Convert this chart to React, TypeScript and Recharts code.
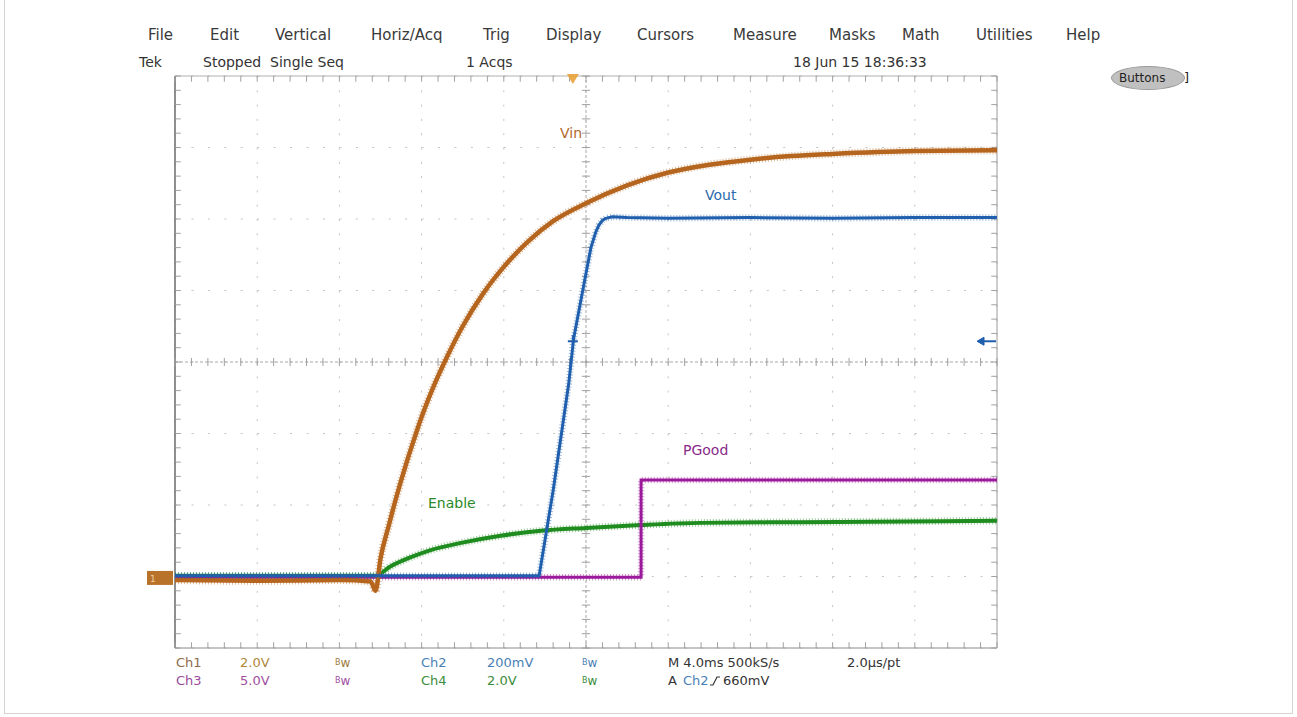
import React from 'react';
import { LineChart, Line, XAxis, YAxis, CartesianGrid, ReferenceLine, ReferenceDot } from 'recharts';

// time in screen divisions (0..10), amplitude in divisions (-4..4, centre line = 0)
const xTicks = [0, 1, 2, 3, 4, 5, 6, 7, 8, 9, 10];
const yTicks = [-4, -3, -2, -1, 0, 1, 2, 3, 4];

// Ch1 - Vin
const vinTime = [0, 1, 2, 2.38, 2.44, 2.5, 2.6, 2.7, 2.8, 2.9, 3.0, 3.15, 3.3, 3.5, 3.75, 4.0, 4.3, 4.6, 5.0, 5.5, 6.0, 6.5, 7.0, 7.5, 8.0, 9.0, 10];
const vinValue = [-3.05, -3.06, -3.05, -3.07, -3.2, -2.75, -2.29, -1.86, -1.47, -1.11, -0.77, -0.33, 0.05, 0.5, 0.96, 1.33, 1.69, 1.97, 2.22, 2.47, 2.65, 2.76, 2.83, 2.88, 2.91, 2.95, 2.96];

// Ch2 - Vout
const voutTime = [0, 1, 2, 3, 4, 4.43, 4.6, 4.79, 4.85, 4.98, 5.06, 5.12, 5.16, 5.2, 5.24, 5.32, 5.5, 6, 7, 8, 9, 10];
const voutValue = [-2.99, -2.99, -2.99, -2.99, -2.99, -2.99, -1.8, -0.3, 0.33, 1.12, 1.6, 1.82, 1.92, 1.98, 2.01, 2.03, 2.02, 2.01, 2.02, 2.01, 2.02, 2.02];

// Ch3 - PGood
const pgoodTime = [0, 2, 4, 5.67, 5.67, 6, 7, 8, 9, 10];
const pgoodValue = [-3.01, -3.01, -3.01, -3.01, -1.65, -1.65, -1.65, -1.65, -1.65, -1.65];

// Ch4 - Enable
const enableTime = [0, 2.44, 2.62, 2.87, 3.11, 3.48, 3.96, 4.45, 5.0, 5.67, 6.4, 7.62, 10];
const enableValue = [-2.99, -2.99, -2.86, -2.73, -2.63, -2.53, -2.43, -2.36, -2.32, -2.28, -2.25, -2.24, -2.22];

const trigTime = 4.84;
const trigLevel = 0.29;
const groundLevel = -3.02;

const toRows = (t: number[], v: number[]) => t.map((x, i) => ({ t: x, v: v[i] }));
const vinData = toRows(vinTime, vinValue);
const voutData = toRows(voutTime, voutValue);
const pgoodData = toRows(pgoodTime, pgoodValue);
const enableData = toRows(enableTime, enableValue);

const xMinor = Array.from({ length: 51 }, (_, i) => i / 5);
const yMinor = Array.from({ length: 41 }, (_, i) => -4 + i / 5);

const BROWN = '#b5651d';
const BLUE = '#1f5fae';
const GREEN = '#1f8c1f';
const PURPLE = '#9b1a9b';
const GRID = '#c4c4c4';
const FONT = '"DejaVu Sans", Verdana, sans-serif';

const Txt = ({ x, y, color = '#333', size = 14, children }: any) => (
  <div
    style={{
      position: 'absolute',
      left: x,
      top: y - size * 0.6,
      fontSize: size,
      lineHeight: `${size * 1.2}px`,
      color,
      whiteSpace: 'nowrap',
      fontFamily: FONT,
    }}
  >
    {children}
  </div>
);

const Bw = ({ x, y, color }: any) => (
  <Txt x={x} y={y} color={color} size={12}>
    <span style={{ fontSize: 8, verticalAlign: 'top' }}>B</span>w
  </Txt>
);

const TrigMarker = ({ cx, cy }: any) => (
  <path d={`M${cx - 6},${cy - 2} L${cx + 6},${cy - 2} L${cx},${cy + 8} Z`} fill="#e8a23a" opacity={0.9} />
);

const LevelArrow = ({ cx, cy }: any) => (
  <g stroke={BLUE} fill={BLUE}>
    <line x1={cx - 14} y1={cy} x2={cx - 1} y2={cy} strokeWidth={2} />
    <path d={`M${cx - 20},${cy} L${cx - 13},${cy - 4} L${cx - 13},${cy + 4} Z`} />
  </g>
);

const GroundMarker = ({ cx, cy }: any) => (
  <g>
    <rect x={cx - 28} y={cy - 7} width={26} height={14} fill="#b8722a" />
    <text x={cx - 25} y={cy + 4} fontSize={9} fill="#f0d0a0" fontFamily={FONT}>1</text>
  </g>
);

const TrigCross = ({ cx, cy }: any) => (
  <g stroke={BLUE} strokeWidth={2}>
    <line x1={cx - 5} y1={cy} x2={cx + 5} y2={cy} />
    <line x1={cx} y1={cy - 6} x2={cx} y2={cy + 6} />
  </g>
);

// a trace plus a faint dashed fringe to give it the noisy scope look
const trace = (key: string, data: any[], color: string, width: number, curve: any) => [
  <Line key={`${key}n`} data={data} dataKey="v" type={curve} stroke={color} strokeWidth={width + 3.5} strokeOpacity={0.45} strokeDasharray="1 2" dot={false} isAnimationActive={false} />,
  <Line key={key} data={data} dataKey="v" type={curve} stroke={color} strokeWidth={width} dot={false} isAnimationActive={false} />,
];

export default function App() {
  return (
    <div style={{ position: 'absolute', left: 0, top: 0, width: 1297, height: 717, background: '#fff', overflow: 'hidden' }}>
      <div style={{ position: 'absolute', left: 4, top: -2, width: 1287, height: 714, border: '1px solid #d4d4d4' }} />

      <LineChart width={1297} height={717} margin={{ top: 76, right: 300, bottom: 69, left: 175 }}>
        <XAxis dataKey="t" type="number" domain={[0, 10]} ticks={xTicks} hide />
        <YAxis type="number" domain={[-4, 4]} ticks={yTicks} hide />
        <CartesianGrid vertical={false} stroke={GRID} strokeDasharray="2 14.44" />
        <CartesianGrid horizontal={false} stroke={GRID} strokeDasharray="2 12.3" />

        <ReferenceLine y={0} stroke="#a8a8a8" strokeDasharray="3 2" />
        <ReferenceLine x={5} stroke="#a8a8a8" strokeDasharray="3 2" />
        <ReferenceLine x={0} stroke="#6a6a6a" strokeWidth={1.5} ifOverflow="visible" />
        <ReferenceLine x={10} stroke="#9a9a9a" ifOverflow="visible" />
        <ReferenceLine y={4} stroke="#b0b0b0" ifOverflow="visible" />
        <ReferenceLine y={-4} stroke="#8a8a8a" ifOverflow="visible" />

        {xMinor.map((x) => (
          <ReferenceLine key={`hc${x}`} segment={[{ x, y: -0.056 }, { x, y: 0.056 }]} stroke="#a0a0a0" ifOverflow="visible" />
        ))}
        {xMinor.map((x) => (
          <ReferenceLine key={`ht${x}`} segment={[{ x, y: 4 }, { x, y: 3.92 }]} stroke="#a0a0a0" ifOverflow="visible" />
        ))}
        {xMinor.map((x) => (
          <ReferenceLine key={`hb${x}`} segment={[{ x, y: -4 }, { x, y: -3.92 }]} stroke="#a0a0a0" ifOverflow="visible" />
        ))}
        {yMinor.map((y) => (
          <ReferenceLine key={`vc${y}`} segment={[{ x: 4.95, y }, { x: 5.05, y }]} stroke="#a0a0a0" ifOverflow="visible" />
        ))}
        {yMinor.map((y) => (
          <ReferenceLine key={`vl${y}`} segment={[{ x: 0, y }, { x: 0.07, y }]} stroke="#a0a0a0" ifOverflow="visible" />
        ))}
        {yMinor.map((y) => (
          <ReferenceLine key={`vr${y}`} segment={[{ x: 10, y }, { x: 9.93, y }]} stroke="#a0a0a0" ifOverflow="visible" />
        ))}

        {trace('enable', enableData, GREEN, 4, 'monotone')}
        {trace('pgood', pgoodData, PURPLE, 3, 'linear')}
        {trace('vin', vinData, BROWN, 4.5, 'monotone')}
        {trace('vout', voutData, BLUE, 3, 'linear')}

        <ReferenceDot x={trigTime} y={4} shape={<TrigMarker />} ifOverflow="visible" />
        <ReferenceDot x={10} y={trigLevel} shape={<LevelArrow />} ifOverflow="visible" />
        <ReferenceDot x={0} y={groundLevel} shape={<GroundMarker />} ifOverflow="visible" />
        <ReferenceDot x={trigTime} y={trigLevel} shape={<TrigCross />} ifOverflow="visible" />
      </LineChart>

      {/* menu bar */}
      <Txt x={148} y={35} size={15} color="#3a3a3a">File</Txt>
      <Txt x={210} y={35} size={15} color="#3a3a3a">Edit</Txt>
      <Txt x={275} y={35} size={15} color="#3a3a3a">Vertical</Txt>
      <Txt x={371} y={35} size={15} color="#3a3a3a">Horiz/Acq</Txt>
      <Txt x={483} y={35} size={15} color="#3a3a3a">Trig</Txt>
      <Txt x={546} y={35} size={15} color="#3a3a3a">Display</Txt>
      <Txt x={637} y={35} size={15} color="#3a3a3a">Cursors</Txt>
      <Txt x={733} y={35} size={15} color="#3a3a3a">Measure</Txt>
      <Txt x={829} y={35} size={15} color="#3a3a3a">Masks</Txt>
      <Txt x={902} y={35} size={15} color="#3a3a3a">Math</Txt>
      <Txt x={976} y={35} size={15} color="#3a3a3a">Utilities</Txt>
      <Txt x={1066} y={35} size={15} color="#3a3a3a">Help</Txt>

      {/* status line */}
      <Txt x={139} y={62} size={14}>Tek</Txt>
      <Txt x={203} y={62} size={14}>Stopped</Txt>
      <Txt x={270} y={62} size={14}>Single Seq</Txt>
      <Txt x={466} y={62} size={14}>1 Acqs</Txt>
      <Txt x={793} y={62} size={14}>18 Jun 15 18:36:33</Txt>

      <div
        style={{
          position: 'absolute', left: 1111, top: 66, width: 74, height: 24, borderRadius: '50%',
          background: '#c0c0c0', border: '1px solid #9a9a9a', boxSizing: 'border-box',
        }}
      />
      <Txt x={1119} y={78} size={12} color="#222">Buttons</Txt>
      <Txt x={1184} y={78} size={13} color="#222">]</Txt>

      {/* trace labels */}
      <Txt x={560} y={133} color="#b0682a">Vin</Txt>
      <Txt x={705} y={195} color="#2a6aaa">Vout</Txt>
      <Txt x={683} y={450} color="#8a2a8a">PGood</Txt>
      <Txt x={428} y={503} color="#2a8a2a">Enable</Txt>

      {/* channel readout */}
      <Txt x={176} y={663} size={13} color="#8e6a48">Ch1</Txt>
      <Txt x={240} y={663} size={13} color="#b08838">2.0V</Txt>
      <Bw x={335} y={663} color="#a07a40" />
      <Txt x={421} y={663} size={13} color="#4a7fb5">Ch2</Txt>
      <Txt x={487} y={663} size={13} color="#4a7fb5">200mV</Txt>
      <Bw x={582} y={663} color="#4a7fb5" />
      <Txt x={668} y={663} size={13} color="#333">M 4.0ms 500kS/s</Txt>
      <Txt x={847} y={663} size={13} color="#333">2.0µs/pt</Txt>

      <Txt x={176} y={681} size={13} color="#9a4a9a">Ch3</Txt>
      <Txt x={240} y={681} size={13} color="#a050a0">5.0V</Txt>
      <Bw x={335} y={681} color="#a050a0" />
      <Txt x={421} y={681} size={13} color="#3c8c3c">Ch4</Txt>
      <Txt x={487} y={681} size={13} color="#3c8c3c">2.0V</Txt>
      <Bw x={582} y={681} color="#3c8c3c" />
      <Txt x={668} y={681} size={13} color="#333">A</Txt>
      <Txt x={683} y={681} size={13} color="#4a7fb5">Ch2</Txt>
      <svg style={{ position: 'absolute', left: 710, top: 675 }} width={10} height={12}>
        <path d="M0,10 L3,10 L7,2 L10,2" fill="none" stroke="#333" strokeWidth={1.2} />
      </svg>
      <Txt x={723} y={681} size={13} color="#333">660mV</Txt>
    </div>
  );
}
